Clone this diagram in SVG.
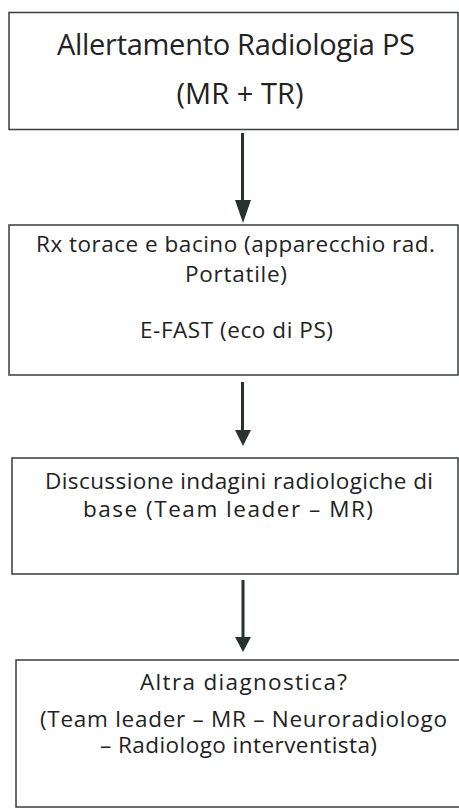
<svg xmlns="http://www.w3.org/2000/svg" width="459" height="809" viewBox="0 0 459 809">
<style>
.box{fill:#ffffff;stroke:#3a3d3c;stroke-width:1.5}
.t{font-family:"Open Sans",Lato,"Liberation Sans",sans-serif;fill:#222222;text-anchor:middle;font-variant-ligatures:none}
.big{font-size:29px}
.sm{font-size:22.5px}
.ln{stroke:#263330;stroke-width:3;fill:none}
.hd{fill:#263330}
</style>
<rect x="0" y="0" width="459" height="809" fill="#ffffff"/>
<g id="node1">
<rect class="box" x="9" y="12.5" width="449" height="117"/>
<text class="t big" x="236" y="55" textLength="358">Allertamento Radiologia PS</text>
<text class="t big" x="240" y="104" textLength="127">(MR + TR)</text>
</g>
<g id="node2">
<rect class="box" x="9" y="225" width="449" height="150"/>
<text class="t sm" x="235.5" y="252" textLength="399">Rx torace e bacino (apparecchio rad.</text>
<text class="t sm" x="236" y="282" textLength="102">Portatile)</text>
<text class="t sm" x="236.5" y="338" textLength="193">E-FAST (eco di PS)</text>
</g>
<g id="node3">
<rect class="box" x="12" y="458" width="446" height="116"/>
<text class="t sm" x="239" y="489" textLength="388">Discussione indagini radiologiche di</text>
<text class="t sm" x="228" y="517" textLength="290">base (Team leader – MR)</text>
</g>
<g id="node4">
<rect class="box" x="16" y="660" width="450" height="147"/>
<text class="t sm" x="243.5" y="690" textLength="207">Altra diagnostica?</text>
<text class="t sm" x="243.5" y="727" textLength="407">(Team leader – MR – Neuroradiologo</text>
<text class="t sm" x="238.5" y="753" textLength="277">– Radiologo interventista)</text>
</g>
<g id="connectors">
<line class="ln" x1="242.5" y1="133" x2="242.5" y2="202"/>
<polygon class="hd" points="235,200 251,200 243,223"/>
<line class="ln" x1="242.5" y1="382" x2="242.5" y2="432"/>
<polygon class="hd" points="235,430 251,430 243,446"/>
<line class="ln" x1="243" y1="580" x2="243" y2="639"/>
<polygon class="hd" points="235,637 251,637 243,652"/>
</g>
</svg>
